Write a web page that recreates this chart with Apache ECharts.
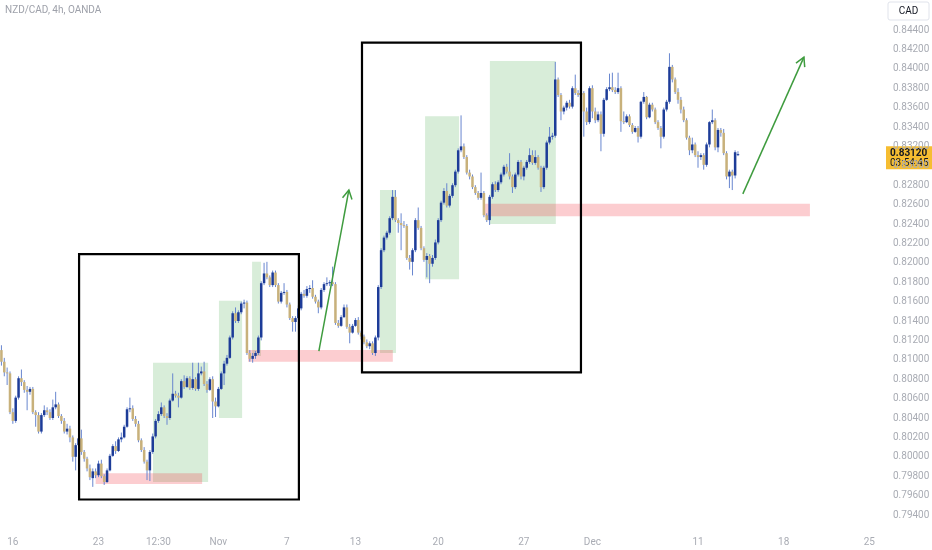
<!DOCTYPE html>
<html>
<head>
<meta charset="utf-8">
<title>NZD/CAD, 4h, OANDA</title>
<script src="https://cdn.jsdelivr.net/npm/echarts@6.0.0/dist/echarts.min.js"></script>
<style>
html, body { margin: 0; padding: 0; background: #ffffff; }
#chart { width: 932px; height: 550px; }
</style>
</head>
<body>
<div id="chart"></div>
<script>
// 4h candles: [open, close, low, high]
var candles = [
  [0.8110,0.8098,0.8094,0.8115],[0.8098,0.8087,0.8083,0.8102],[0.8087,0.8086,0.8074,0.8092],[0.8086,0.8046,0.8044,0.8088],
  [0.8046,0.8037,0.8034,0.8050],[0.8037,0.8061,0.8035,0.8063],[0.8061,0.8081,0.8059,0.8083],[0.8081,0.8077,0.8073,0.8090],
  [0.8077,0.8069,0.8066,0.8079],[0.8069,0.8067,0.8048,0.8073],[0.8067,0.8070,0.8064,0.8072],[0.8070,0.8046,0.8044,0.8072],
  [0.8046,0.8043,0.8031,0.8048],[0.8043,0.8026,0.8024,0.8046],[0.8026,0.8043,0.8024,0.8045],[0.8043,0.8048,0.8041,0.8053],
  [0.8048,0.8046,0.8043,0.8051],[0.8046,0.8040,0.8038,0.8049],[0.8040,0.8051,0.8038,0.8059],[0.8051,0.8054,0.8049,0.8067],
  [0.8054,0.8042,0.8040,0.8056],[0.8042,0.8037,0.8034,0.8044],[0.8037,0.8026,0.8024,0.8040],[0.8026,0.8029,0.8023,0.8034],
  [0.8029,0.8020,0.8015,0.8032],[0.8020,0.8000,0.7995,0.8022],[0.8000,0.8012,0.7986,0.8014],[0.8012,0.8019,0.8009,0.8028],
  [0.8019,0.8005,0.8002,0.8028],[0.8005,0.7998,0.7995,0.8007],[0.7998,0.7988,0.7985,0.8000],[0.7988,0.7979,0.7976,0.7992],
  [0.7978,0.7985,0.7969,0.7988],[0.7985,0.7981,0.7978,0.7988],[0.7981,0.7993,0.7979,0.7996],[0.7993,0.7980,0.7978,0.7997],
  [0.7980,0.7974,0.7971,0.7982],[0.7974,0.7986,0.7973,0.7988],[0.7986,0.8001,0.7985,0.8003],[0.8001,0.8011,0.8000,0.8013],
  [0.8011,0.8006,0.8003,0.8016],[0.8006,0.8018,0.8005,0.8020],[0.8018,0.8020,0.8015,0.8025],[0.8020,0.8031,0.8019,0.8033],
  [0.8031,0.8049,0.8030,0.8051],[0.8049,0.8050,0.8046,0.8061],[0.8050,0.8039,0.8037,0.8053],[0.8039,0.8034,0.8031,0.8042],
  [0.8034,0.8017,0.8015,0.8037],[0.8017,0.8007,0.8005,0.8019],[0.8007,0.7995,0.7993,0.8010],[0.7995,0.7986,0.7976,0.7997],
  [0.7986,0.8005,0.7975,0.8007],[0.8005,0.8021,0.8003,0.8024],[0.8021,0.8037,0.8019,0.8039],[0.8037,0.8044,0.8035,0.8047],
  [0.8044,0.8051,0.8042,0.8056],[0.8051,0.8042,0.8040,0.8053],[0.8042,0.8040,0.8033,0.8045],[0.8040,0.8058,0.8038,0.8060],
  [0.8058,0.8065,0.8057,0.8086],[0.8065,0.8063,0.8061,0.8068],[0.8063,0.8061,0.8051,0.8066],[0.8061,0.8078,0.8060,0.8080],
  [0.8078,0.8072,0.8070,0.8084],[0.8072,0.8081,0.8071,0.8083],[0.8081,0.8071,0.8069,0.8083],[0.8071,0.8080,0.8069,0.8097],
  [0.8080,0.8070,0.8068,0.8082],[0.8070,0.8086,0.8068,0.8097],[0.8086,0.8088,0.8084,0.8093],[0.8088,0.8075,0.8073,0.8098],
  [0.8075,0.8069,0.8066,0.8078],[0.8069,0.8080,0.8068,0.8082],[0.8080,0.8057,0.8040,0.8083],[0.8057,0.8052,0.8041,0.8061],
  [0.8052,0.8070,0.8051,0.8072],[0.8070,0.8086,0.8069,0.8088],[0.8086,0.8096,0.8074,0.8099],[0.8096,0.8102,0.8094,0.8105],
  [0.8102,0.8123,0.8101,0.8125],[0.8123,0.8148,0.8121,0.8150],[0.8148,0.8140,0.8138,0.8154],[0.8140,0.8149,0.8138,0.8151],
  [0.8149,0.8158,0.8147,0.8160],[0.8158,0.8159,0.8153,0.8162],[0.8159,0.8107,0.8105,0.8161],[0.8107,0.8101,0.8098,0.8110],
  [0.8101,0.8104,0.8097,0.8107],[0.8104,0.8107,0.8101,0.8109],[0.8107,0.8123,0.8105,0.8125],[0.8123,0.8179,0.8120,0.8181],
  [0.8179,0.8189,0.8177,0.8200],[0.8189,0.8185,0.8183,0.8201],[0.8185,0.8177,0.8175,0.8187],[0.8177,0.8190,0.8175,0.8192],
  [0.8190,0.8177,0.8175,0.8192],[0.8177,0.8160,0.8158,0.8179],[0.8160,0.8169,0.8158,0.8171],[0.8169,0.8170,0.8167,0.8179],
  [0.8170,0.8157,0.8154,0.8172],[0.8157,0.8143,0.8141,0.8159],[0.8143,0.8139,0.8129,0.8145],[0.8139,0.8143,0.8129,0.8145],
  [0.8143,0.8153,0.8141,0.8156],[0.8153,0.8168,0.8151,0.8170],[0.8168,0.8166,0.8164,0.8172],[0.8166,0.8173,0.8164,0.8176],
  [0.8173,0.8174,0.8169,0.8177],[0.8174,0.8165,0.8163,0.8182],[0.8165,0.8160,0.8158,0.8167],[0.8160,0.8154,0.8148,0.8162],
  [0.8154,0.8172,0.8152,0.8174],[0.8172,0.8178,0.8170,0.8180],[0.8178,0.8179,0.8176,0.8185],[0.8179,0.8180,0.8176,0.8182],
  [0.8180,0.8178,0.8176,0.8196],[0.8178,0.8138,0.8136,0.8180],[0.8138,0.8135,0.8133,0.8141],[0.8135,0.8144,0.8134,0.8146],
  [0.8144,0.8154,0.8143,0.8157],[0.8154,0.8134,0.8132,0.8157],[0.8134,0.8128,0.8117,0.8137],[0.8128,0.8135,0.8127,0.8137],
  [0.8135,0.8141,0.8134,0.8143],[0.8141,0.8128,0.8126,0.8144],[0.8128,0.8124,0.8121,0.8130],[0.8124,0.8118,0.8116,0.8126],
  [0.8118,0.8114,0.8112,0.8121],[0.8114,0.8117,0.8111,0.8119],[0.8117,0.8107,0.8105,0.8119],[0.8107,0.8123,0.8104,0.8125],
  [0.8123,0.8175,0.8120,0.8177],[0.8175,0.8213,0.8173,0.8215],[0.8213,0.8226,0.8211,0.8228],[0.8226,0.8231,0.8224,0.8233],
  [0.8231,0.8246,0.8229,0.8248],[0.8246,0.8268,0.8244,0.8275],[0.8268,0.8244,0.8242,0.8275],[0.8244,0.8241,0.8231,0.8246],
  [0.8241,0.8239,0.8213,0.8251],[0.8239,0.8238,0.8236,0.8243],[0.8238,0.8205,0.8203,0.8240],[0.8205,0.8201,0.8193,0.8208],
  [0.8201,0.8213,0.8187,0.8215],[0.8213,0.8244,0.8211,0.8246],[0.8244,0.8236,0.8234,0.8257],[0.8236,0.8215,0.8213,0.8238],
  [0.8215,0.8203,0.8201,0.8217],[0.8203,0.8207,0.8185,0.8210],[0.8207,0.8199,0.8179,0.8209],[0.8199,0.8205,0.8196,0.8208],
  [0.8205,0.8221,0.8203,0.8224],[0.8221,0.8244,0.8219,0.8246],[0.8244,0.8262,0.8242,0.8264],[0.8262,0.8274,0.8260,0.8277],
  [0.8274,0.8259,0.8257,0.8282],[0.8259,0.8269,0.8257,0.8271],[0.8269,0.8280,0.8267,0.8282],[0.8280,0.8294,0.8278,0.8296],
  [0.8294,0.8316,0.8292,0.8318],[0.8316,0.8320,0.8314,0.8352],[0.8320,0.8309,0.8307,0.8323],[0.8309,0.8293,0.8291,0.8311],
  [0.8293,0.8289,0.8286,0.8296],[0.8289,0.8278,0.8276,0.8291],[0.8278,0.8272,0.8270,0.8280],[0.8272,0.8267,0.8265,0.8274],
  [0.8267,0.8272,0.8265,0.8293],[0.8272,0.8249,0.8247,0.8274],[0.8249,0.8244,0.8242,0.8251],[0.8244,0.8268,0.8239,0.8270],
  [0.8268,0.8281,0.8266,0.8283],[0.8281,0.8275,0.8273,0.8284],[0.8275,0.8283,0.8273,0.8285],[0.8283,0.8291,0.8281,0.8293],
  [0.8291,0.8299,0.8289,0.8301],[0.8299,0.8294,0.8292,0.8302],[0.8294,0.8289,0.8286,0.8313],[0.8289,0.8278,0.8272,0.8291],
  [0.8278,0.8291,0.8276,0.8293],[0.8291,0.8304,0.8289,0.8306],[0.8304,0.8289,0.8286,0.8306],[0.8289,0.8298,0.8285,0.8300],
  [0.8298,0.8304,0.8296,0.8306],[0.8304,0.8311,0.8302,0.8318],[0.8311,0.8303,0.8301,0.8316],[0.8303,0.8309,0.8301,0.8316],
  [0.8309,0.8298,0.8296,0.8311],[0.8298,0.8278,0.8273,0.8300],[0.8278,0.8298,0.8276,0.8300],[0.8298,0.8324,0.8296,0.8326],
  [0.8324,0.8330,0.8322,0.8340],[0.8330,0.8331,0.8327,0.8334],[0.8331,0.8389,0.8329,0.8407],[0.8389,0.8373,0.8371,0.8391],
  [0.8373,0.8356,0.8347,0.8375],[0.8356,0.8360,0.8353,0.8362],[0.8360,0.8365,0.8357,0.8367],[0.8365,0.8361,0.8359,0.8368],
  [0.8361,0.8380,0.8359,0.8382],[0.8380,0.8375,0.8373,0.8394],[0.8375,0.8373,0.8371,0.8378],[0.8373,0.8375,0.8370,0.8378],
  [0.8375,0.8356,0.8330,0.8377],[0.8356,0.8345,0.8342,0.8360],[0.8345,0.8380,0.8343,0.8382],[0.8380,0.8356,0.8349,0.8383],
  [0.8356,0.8347,0.8344,0.8360],[0.8347,0.8353,0.8345,0.8356],[0.8353,0.8333,0.8315,0.8356],[0.8333,0.8368,0.8330,0.8370],
  [0.8368,0.8379,0.8367,0.8381],[0.8379,0.8381,0.8377,0.8395],[0.8381,0.8378,0.8376,0.8396],[0.8378,0.8376,0.8374,0.8381],
  [0.8376,0.8380,0.8374,0.8396],[0.8380,0.8346,0.8335,0.8382],[0.8346,0.8345,0.8343,0.8356],[0.8345,0.8351,0.8344,0.8353],
  [0.8351,0.8342,0.8340,0.8353],[0.8342,0.8335,0.8333,0.8344],[0.8335,0.8339,0.8334,0.8341],[0.8339,0.8330,0.8324,0.8341],
  [0.8330,0.8366,0.8328,0.8367],[0.8366,0.8371,0.8364,0.8376],[0.8371,0.8350,0.8348,0.8372],[0.8350,0.8363,0.8349,0.8365],
  [0.8363,0.8358,0.8356,0.8365],[0.8358,0.8345,0.8343,0.8360],[0.8345,0.8339,0.8337,0.8347],[0.8339,0.8330,0.8318,0.8341],
  [0.8330,0.8358,0.8328,0.8360],[0.8358,0.8366,0.8356,0.8368],[0.8366,0.8402,0.8364,0.8416],[0.8402,0.8389,0.8386,0.8404],
  [0.8389,0.8376,0.8374,0.8391],[0.8376,0.8368,0.8364,0.8380],[0.8368,0.8358,0.8354,0.8371],[0.8358,0.8347,0.8345,0.8361],
  [0.8347,0.8329,0.8327,0.8349],[0.8329,0.8316,0.8311,0.8331],[0.8316,0.8322,0.8313,0.8329],[0.8322,0.8311,0.8309,0.8324],
  [0.8311,0.8309,0.8298,0.8315],[0.8309,0.8311,0.8306,0.8313],[0.8311,0.8301,0.8296,0.8313],[0.8301,0.8322,0.8299,0.8324],
  [0.8322,0.8345,0.8319,0.8346],[0.8345,0.8347,0.8343,0.8358],[0.8347,0.8319,0.8316,0.8349],[0.8319,0.8337,0.8314,0.8339],
  [0.8337,0.8334,0.8330,0.8339],[0.8334,0.8313,0.8311,0.8338],[0.8313,0.8289,0.8286,0.8315],[0.8289,0.8294,0.8277,0.8296],
  [0.8294,0.8290,0.8275,0.8296],[0.8290,0.8314,0.8287,0.8316],[0.8311,0.8312,0.8310,0.8315]
];

// time axis: 310 bar slots (the chart leaves room on the right), labels at bar index
var slotCount = 310;
var tickIdx  = [4, 34, 55, 76, 100, 124, 153, 183, 207, 244, 274, 304];
var tickText = ['16', '23', '12:30', 'Nov', '7', '13', '20', '27', 'Dec', '11', '18', '25'];

// drawings on the chart, in bar index / price: [x0, x1, low, high]
var greenZones = [
  [53.1, 72.4, 0.7974, 0.8097],
  [76.2, 84.3, 0.8040, 0.8161],
  [87.8, 90.9, 0.8104, 0.8201],
  [132.6, 138.2, 0.8107, 0.8275],
  [148.4, 160.3, 0.8183, 0.8351],
  [171.1, 194.2, 0.8240, 0.8408]
];
var pinkZones = [
  [33.0, 70.3, 0.7972, 0.7983],
  [86.4, 137.1, 0.8098, 0.8110],
  [169.4, 283.2, 0.8248, 0.8261]
];
var boxes = [
  [27.2, 104.2, 0.7956, 0.8209],
  [126.3, 203.0, 0.8087, 0.8427]
];
// arrows: [x from, price from, x to, price to]
var arrows = [
  [111.2, 0.8109, 121.7, 0.8275],
  [259.7, 0.8271, 281.1, 0.8412]
];
var lastPrice = 0.8312;
var countdown = '03:54:45';

var upColor = '#1d3c98';
var downColor = '#c8b17b';
var wickColor = '#6886cf';
var arrowColor = '#3f9c3f';
var labelColor = '#a9acb4';

var xCats = [];
var labelMap = {};
for (var i = 0; i < slotCount; i++) xCats.push(String(i));
tickIdx.forEach(function (k, j) { labelMap[String(k)] = tickText[j]; });

var candleData = candles.map(function (c, i) { return [i, c[0], c[1], c[2], c[3]]; });

function renderCandle(params, api) {
  var idx = api.value(0);
  var o = api.coord([idx, api.value(1)]);
  var c = api.coord([idx, api.value(2)]);
  var l = api.coord([idx, api.value(3)]);
  var h = api.coord([idx, api.value(4)]);
  var bw = api.size([1, 0])[0] * 0.88;
  var up = api.value(2) >= api.value(1);
  var top = Math.min(o[1], c[1]);
  var hgt = Math.max(Math.abs(o[1] - c[1]), 1);
  return {
    type: 'group',
    children: [
      { type: 'line', shape: { x1: o[0], y1: h[1], x2: o[0], y2: l[1] }, style: { stroke: wickColor, lineWidth: 1 } },
      { type: 'rect', shape: { x: o[0] - bw / 2, y: top, width: bw, height: hgt }, style: { fill: up ? upColor : downColor } }
    ]
  };
}

function rectRenderer(fill, stroke, lw) {
  return function (params, api) {
    var p0 = api.coord([api.value(0), api.value(3)]);
    var p1 = api.coord([api.value(1), api.value(2)]);
    return {
      type: 'rect',
      shape: { x: p0[0], y: p0[1], width: p1[0] - p0[0], height: p1[1] - p0[1] },
      style: { fill: fill, stroke: stroke, lineWidth: lw }
    };
  };
}

function renderArrow(params, api) {
  var a = api.coord([api.value(0), api.value(1)]);
  var b = api.coord([api.value(2), api.value(3)]);
  var ang = Math.atan2(b[1] - a[1], b[0] - a[0]);
  var len = 10, spread = 0.5;
  var l1 = [b[0] - len * Math.cos(ang - spread), b[1] - len * Math.sin(ang - spread)];
  var l2 = [b[0] - len * Math.cos(ang + spread), b[1] - len * Math.sin(ang + spread)];
  return {
    type: 'group',
    children: [
      { type: 'line', shape: { x1: a[0], y1: a[1], x2: b[0], y2: b[1] }, style: { stroke: arrowColor, lineWidth: 1.5 } },
      { type: 'polyline', shape: { points: [l1, b, l2] }, style: { stroke: arrowColor, lineWidth: 1.5, fill: null } }
    ]
  };
}

var chart = echarts.init(document.getElementById('chart'));
var option = {
  animation: false,
  backgroundColor: '#ffffff',
  textStyle: { fontFamily: 'Roboto, sans-serif' },
  grid: { left: 0, right: 47, top: 0.9, bottom: 15.6, outerBoundsMode: 'none' },
  xAxis: [
    {
      type: 'category',
      data: xCats,
      boundaryGap: true,
      axisLine: { show: false },
      axisTick: { show: false },
      splitLine: { show: false },
      axisLabel: {
        color: labelColor,
        fontSize: 10,
        margin: 3,
        interval: function (index, value) { return labelMap[value] !== undefined; },
        formatter: function (value) { return labelMap[value] || ''; }
      }
    },
    { type: 'value', min: -0.5, max: slotCount - 0.5, show: false }
  ],
  yAxis: {
    type: 'value',
    position: 'right',
    min: 0.792,
    max: 0.847,
    interval: 0.002,
    axisLine: { show: false },
    axisTick: { show: false },
    splitLine: { show: false },
    axisLabel: {
      color: labelColor,
      fontSize: 10,
      margin: 8,
      showMinLabel: false,
      showMaxLabel: false,
      formatter: function (v) {
        if (v > 0.8445 || v < 0.7935) return '';
        return v.toFixed(5);
      }
    }
  },
  series: [
    {
      name: 'green', type: 'custom', xAxisIndex: 1, z: 1, silent: true,
      renderItem: rectRenderer('rgba(76,175,80,0.22)', null, 0),
      encode: { x: [0, 1], y: [2, 3] },
      data: greenZones
    },
    {
      name: 'pink', type: 'custom', xAxisIndex: 1, z: 1, silent: true,
      renderItem: rectRenderer('rgba(242,54,69,0.25)', null, 0),
      encode: { x: [0, 1], y: [2, 3] },
      data: pinkZones
    },
    {
      name: 'NZD/CAD', type: 'custom', xAxisIndex: 0, z: 2,
      renderItem: renderCandle,
      encode: { x: 0, y: [1, 2, 3, 4] },
      data: candleData
    },
    {
      name: 'boxes', type: 'custom', xAxisIndex: 1, z: 3, silent: true,
      renderItem: rectRenderer(null, '#000000', 2.2),
      encode: { x: [0, 1], y: [2, 3] },
      data: boxes
    },
    {
      name: 'arrows', type: 'custom', xAxisIndex: 1, z: 4, silent: true,
      renderItem: renderArrow,
      encode: { x: [0, 2], y: [1, 3] },
      data: arrows
    }
  ]
};
chart.setOption(option);

// header text, currency box and the last-price tag
var py = chart.convertToPixel({ yAxisIndex: 0 }, lastPrice);
chart.setOption({
  graphic: [
    {
      type: 'text', left: 5, top: 5, z: 10,
      style: { text: 'NZD/CAD, 4h, OANDA', fill: '#9ea1aa', fontSize: 10, fontFamily: 'Roboto, sans-serif' }
    },
    {
      type: 'group', z: 10, x: 888, y: 2,
      children: [
        { type: 'rect', shape: { x: 0, y: 0, width: 41, height: 18, r: 2 }, style: { fill: '#ffffff', stroke: '#e0e3eb', lineWidth: 1 } },
        { type: 'text', x: 20.5, y: 9, style: { text: 'CAD', fill: '#131722', fontSize: 10, align: 'center', verticalAlign: 'middle', fontFamily: 'Roboto, sans-serif' } }
      ]
    },
    {
      type: 'group', z: 10, x: 886, y: py,
      children: [
        { type: 'rect', shape: { x: 0, y: -8, width: 46, height: 23 }, style: { fill: '#f6bd31' } },
        { type: 'text', x: 4, y: -1, style: { text: lastPrice.toFixed(5), fill: '#131722', fontSize: 10, fontWeight: 'bold', verticalAlign: 'middle', fontFamily: 'Roboto, sans-serif' } },
        { type: 'text', x: 4, y: 9, style: { text: countdown, fill: '#131722', fontSize: 10, verticalAlign: 'middle', fontFamily: 'Roboto, sans-serif' } }
      ]
    }
  ]
});
</script>
</body>
</html>
